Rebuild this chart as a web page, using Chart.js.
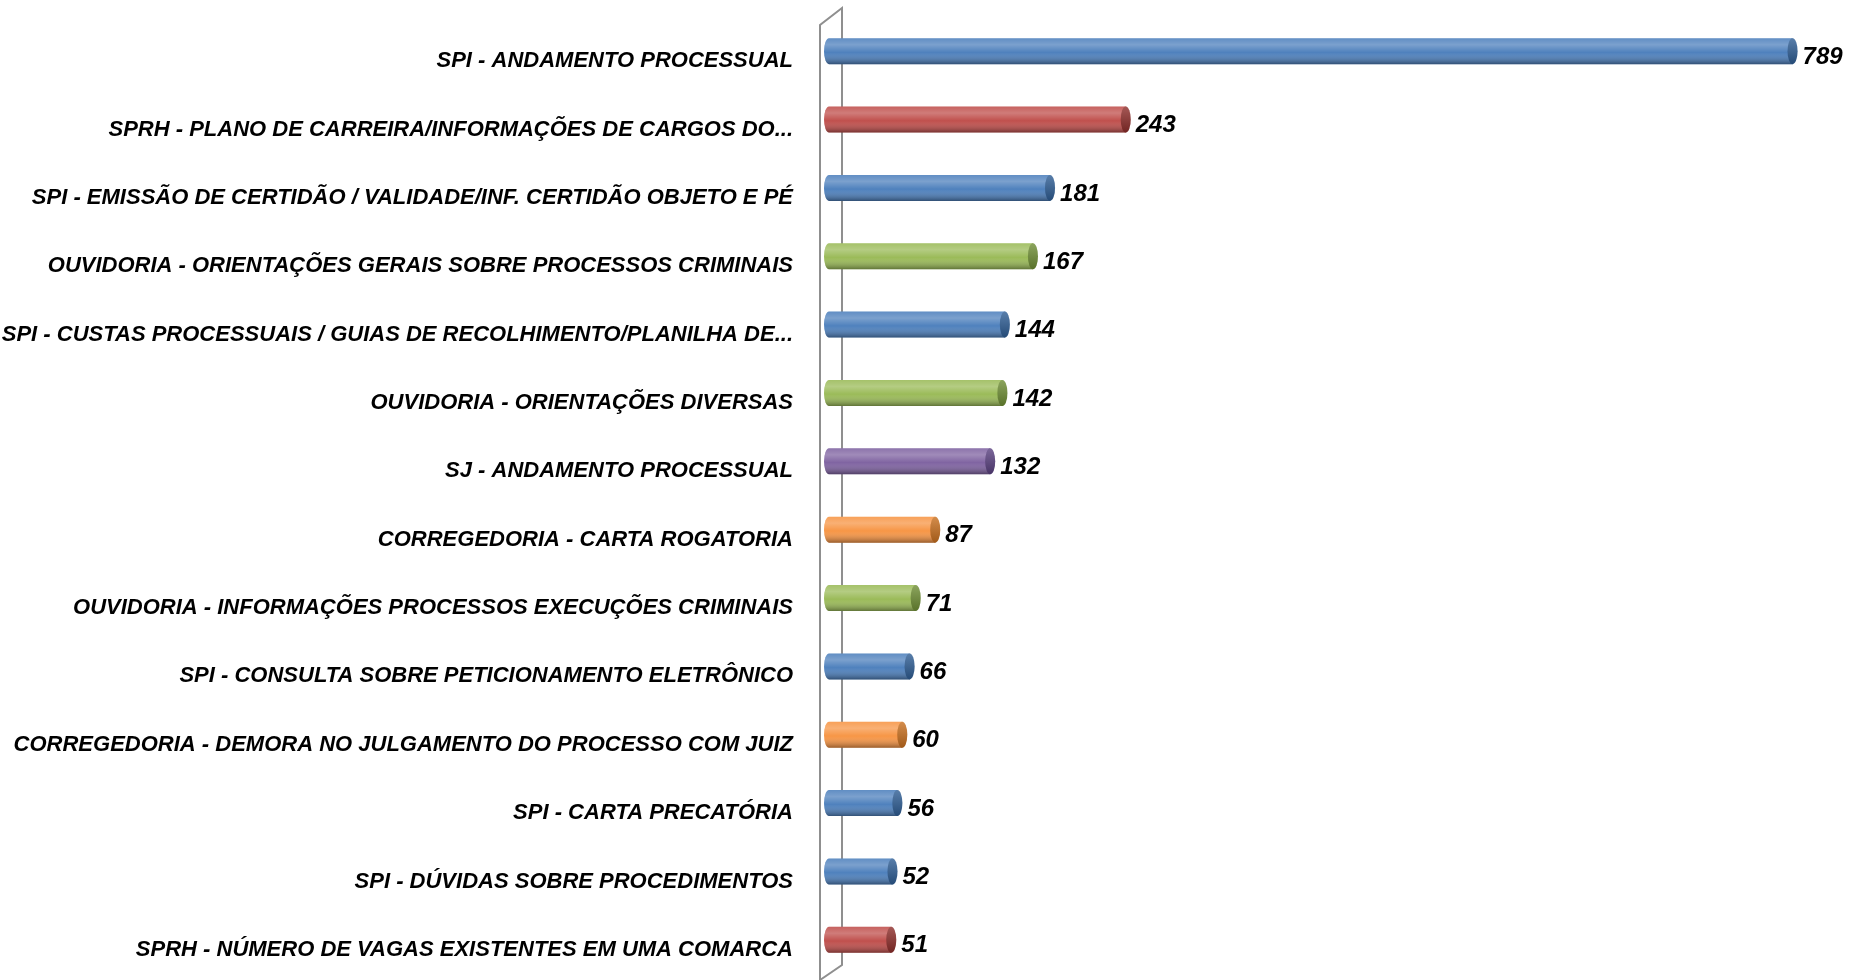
<!DOCTYPE html>
<html>
<head>
<meta charset="utf-8">
<script src="https://cdn.jsdelivr.net/npm/chart.js@4.4.1/dist/chart.umd.min.js"></script>
<style>
  html, body { margin: 0; padding: 0; background: #ffffff; }
  #wrap { width: 1861px; height: 980px; position: relative; }
</style>
</head>
<body>
<div id="wrap"><canvas id="grafico"></canvas></div>
<script>
const categorias = [
    "SPI - ANDAMENTO PROCESSUAL",
    "SPRH - PLANO DE CARREIRA/INFORMAÇÕES DE CARGOS DO...",
    "SPI - EMISSÃO DE CERTIDÃO / VALIDADE/INF. CERTIDÃO OBJETO E PÉ",
    "OUVIDORIA - ORIENTAÇÕES GERAIS SOBRE PROCESSOS CRIMINAIS",
    "SPI - CUSTAS PROCESSUAIS / GUIAS DE RECOLHIMENTO/PLANILHA DE...",
    "OUVIDORIA - ORIENTAÇÕES DIVERSAS",
    "SJ - ANDAMENTO PROCESSUAL",
    "CORREGEDORIA - CARTA ROGATORIA",
    "OUVIDORIA - INFORMAÇÕES PROCESSOS EXECUÇÕES CRIMINAIS",
    "SPI - CONSULTA SOBRE PETICIONAMENTO ELETRÔNICO",
    "CORREGEDORIA - DEMORA NO JULGAMENTO DO PROCESSO COM JUIZ",
    "SPI - CARTA PRECATÓRIA",
    "SPI - DÚVIDAS SOBRE PROCEDIMENTOS",
    "SPRH - NÚMERO DE VAGAS EXISTENTES EM UMA COMARCA"
];
const atendimentos = [789, 243, 181, 167, 144, 142, 132, 87, 71, 66, 60, 56, 52, 51];
const setores = ["SPI", "SPRH", "SPI", "OUVIDORIA", "SPI", "OUVIDORIA", "SJ", "CORREGEDORIA", "OUVIDORIA", "SPI", "CORREGEDORIA", "SPI", "SPI", "SPRH"];

const coresSetor = {
    "SPI": "#4F81BD",
    "SPRH": "#C0504D",
    "OUVIDORIA": "#9BBB59",
    "SJ": "#8064A2",
    "CORREGEDORIA": "#F79646"
};
const coresTampa = {
    "SPI": "#2F5E95",
    "SPRH": "#8E2E2B",
    "OUVIDORIA": "#6F8E35",
    "SJ": "#5A4180",
    "CORREGEDORIA": "#C9701F"
};

const familia = "'Liberation Sans', Arial, sans-serif";

// parede 3D do eixo vertical
const paredeEixo = {
    id: "paredeEixo",
    beforeDatasetsDraw(chart) {
        const { ctx, chartArea } = chart;
        const xf = chartArea.left - 9, xb = chartArea.left + 13;
        ctx.save();
        ctx.strokeStyle = "#8f8f8f";
        ctx.lineWidth = 2;
        ctx.beginPath();
        ctx.moveTo(xf, chart.height);
        ctx.lineTo(xf, chartArea.top + 8);
        ctx.lineTo(xb, chartArea.top - 9);
        ctx.lineTo(xb, chartArea.bottom - 9);
        ctx.lineTo(xf, chartArea.bottom + 6);
        ctx.stroke();
        ctx.restore();
    }
};

// sombreamento de cilindro + rótulos de valor
const cilindros = {
    id: "cilindros",
    afterDatasetsDraw(chart) {
        const { ctx } = chart;
        const meta = chart.getDatasetMeta(0);
        ctx.save();
        meta.data.forEach((bar, i) => {
            const setor = setores[i];
            const h = bar.height;
            const top = bar.y - h / 2;
            const rx = 5;
            // ponta esquerda arredondada
            ctx.fillStyle = coresSetor[setor];
            ctx.beginPath();
            ctx.ellipse(bar.base, bar.y, rx, h / 2, 0, Math.PI / 2, Math.PI * 1.5);
            ctx.fill();
            // brilho / sombra
            const g = ctx.createLinearGradient(0, top, 0, top + h);
            g.addColorStop(0, "rgba(255,255,255,0.1)");
            g.addColorStop(0.25, "rgba(255,255,255,0.25)");
            g.addColorStop(0.55, "rgba(255,255,255,0)");
            g.addColorStop(1, "rgba(0,0,0,0.38)");
            ctx.fillStyle = g;
            ctx.beginPath();
            ctx.ellipse(bar.base, bar.y, rx, h / 2, 0, Math.PI / 2, Math.PI * 1.5);
            ctx.lineTo(bar.x, top);
            ctx.lineTo(bar.x, top + h);
            ctx.closePath();
            ctx.fill();
            // tampa da direita
            ctx.fillStyle = coresTampa[setor];
            ctx.beginPath();
            ctx.ellipse(bar.x, bar.y, rx, h / 2, 0, 0, Math.PI * 2);
            ctx.fill();
            const gt = ctx.createLinearGradient(0, top, 0, top + h);
            gt.addColorStop(0, "rgba(255,255,255,0.2)");
            gt.addColorStop(1, "rgba(0,0,0,0.2)");
            ctx.fillStyle = gt;
            ctx.fill();
            // valor
            ctx.fillStyle = "#000000";
            ctx.font = "bold italic 24px " + familia;
            ctx.textAlign = "left";
            ctx.textBaseline = "middle";
            ctx.fillText(String(atendimentos[i]), bar.x + 10, bar.y + 6);
        });
        ctx.restore();
    }
};

const ctx = document.getElementById("grafico").getContext("2d");
new Chart(ctx, {
    type: "bar",
    data: {
        labels: categorias,
        datasets: [{
            data: atendimentos,
            backgroundColor: setores.map(s => coresSetor[s]),
            borderWidth: 0,
            barPercentage: 0.38,
            categoryPercentage: 1
        }]
    },
    options: {
        indexAxis: "y",
        responsive: true,
        maintainAspectRatio: false,
        animation: false,
        layout: { padding: { top: 17, bottom: 6, right: 55, left: 0 } },
        plugins: {
            legend: { display: false },
            tooltip: { enabled: false }
        },
        scales: {
            x: {
                display: false,
                min: 0,
                max: 800
            },
            y: {
                grid: { display: false, drawTicks: false },
                border: { display: false },
                ticks: {
                    color: "#000000",
                    font: { family: familia, size: 22, weight: "bold", style: "italic" },
                    padding: 36,
                    labelOffset: 10,
                    autoSkip: false
                },
                afterFit(scale) {
                    scale.width = 829;
                    scale.paddingTop = 0;
                    scale.paddingBottom = 0;
                }
            }
        }
    },
    plugins: [paredeEixo, cilindros]
});
</script>
</body>
</html>
